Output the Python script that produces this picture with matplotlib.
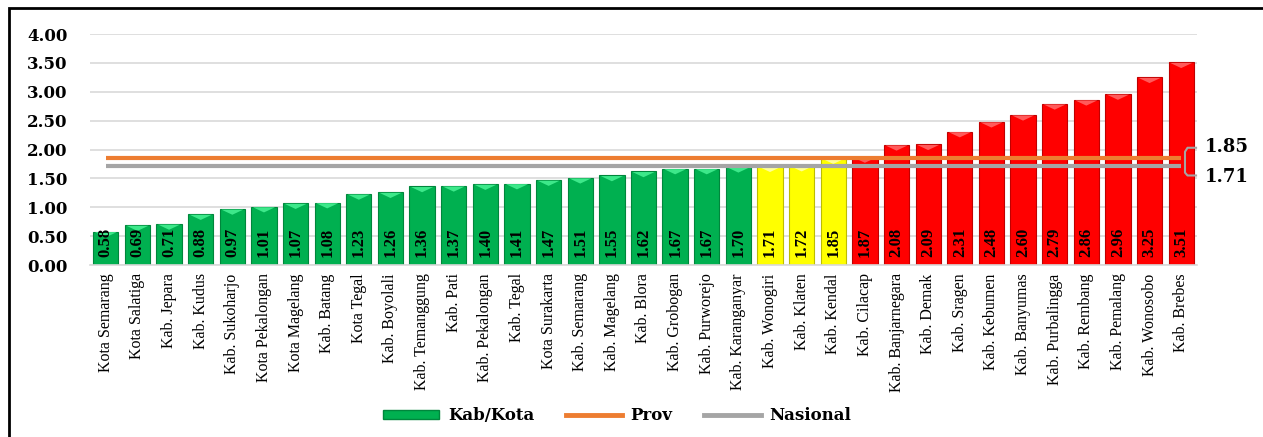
"""Grafik batang Kab/Kota Jawa Tengah dengan garis Prov dan Nasional."""

import matplotlib
matplotlib.use("Agg")
import matplotlib.pyplot as plt
from matplotlib.lines import Line2D
from matplotlib.patches import Patch, Rectangle

regions = [
    "Kota Semarang", "Kota Salatiga", "Kab. Jepara", "Kab. Kudus",
    "Kab. Sukoharjo", "Kota Pekalongan", "Kota Magelang", "Kab. Batang",
    "Kota Tegal", "Kab. Boyolali", "Kab. Temanggung", "Kab. Pati",
    "Kab. Pekalongan", "Kab. Tegal", "Kota Surakarta", "Kab. Semarang",
    "Kab. Magelang", "Kab. Blora", "Kab. Grobogan", "Kab. Purworejo",
    "Kab. Karanganyar", "Kab. Wonogiri", "Kab. Klaten", "Kab. Kendal",
    "Kab. Cilacap", "Kab. Banjarnegara", "Kab. Demak", "Kab. Sragen",
    "Kab. Kebumen", "Kab. Banyumas", "Kab. Purbalingga", "Kab. Rembang",
    "Kab. Pemalang", "Kab. Wonosobo", "Kab. Brebes",
]
values = [
    0.58, 0.69, 0.71, 0.88, 0.97, 1.01, 1.07, 1.08, 1.23, 1.26, 1.36, 1.37,
    1.40, 1.41, 1.47, 1.51, 1.55, 1.62, 1.67, 1.67, 1.70, 1.71, 1.72, 1.85,
    1.87, 2.08, 2.09, 2.31, 2.48, 2.60, 2.79, 2.86, 2.96, 3.25, 3.51,
]
prov = 1.85
nasional = 1.71
yticks = [0.0, 0.5, 1.0, 1.5, 2.0, 2.5, 3.0, 3.5, 4.0]

GREEN, YELLOW, RED = "#00B050", "#FFFF00", "#FF0000"
ORANGE, GRAY = "#ED7D31", "#A5A5A5"
SERIF = ["Liberation Serif", "DejaVu Serif"]
BOLD_SERIF = ["DejaVu Serif"]

# warna tepi dan sorotan atas untuk efek 3D
EDGE = {GREEN: "#00863C", YELLOW: "#BDBD00", RED: "#C00000"}
LIGHT = {GREEN: "#3DE88A", YELLOW: "#FFFF9A", RED: "#FF5A5A"}


def bar_color(v):
    if v < nasional:
        return GREEN
    if v <= prov:
        return YELLOW
    return RED


fig = plt.figure(figsize=(12.63, 4.37), dpi=100)
ax = fig.add_axes([90 / 1263, 1 - 265 / 437, 1107 / 1263, 231 / 437])

x = list(range(len(regions)))
colors = [bar_color(v) for v in values]
width = 0.8
bars = ax.bar(x, values, width=width, color=colors,
              edgecolor=[EDGE[c] for c in colors], linewidth=0.8, zorder=2)

# segitiga terang di puncak batang
for rect, c in zip(bars, colors):
    x0, w, h = rect.get_x(), rect.get_width(), rect.get_height()
    ax.fill([x0 + 0.05, x0 + w / 2, x0 + w - 0.05], [h - 0.01, h - 0.1, h - 0.01],
            color=LIGHT[c], lw=0, zorder=2.5)

# etiqueta nilai di dalam batang
for xi, v in zip(x, values):
    ax.text(xi, 0.13, f"{v:.2f}", rotation=90, ha="center", va="bottom",
            fontsize=12, fontweight="bold", family=SERIF, zorder=4)

# garis provinsi dan nasional
ax.plot([x[0], x[-1]], [prov, prov], color=ORANGE, lw=3, zorder=3,
        solid_capstyle="butt")
ax.plot([x[0], x[-1]], [nasional, nasional], color=GRAY, lw=3, zorder=3,
        solid_capstyle="butt")

# kurung di kanan
bx = x[-1]
ax.plot([bx + 0.47, bx + 0.2, bx + 0.12, bx + 0.12, bx + 0.2, bx + 0.47],
        [2.03, 2.03, 1.96, 1.60, 1.55, 1.55],
        color=GRAY, lw=1.5, clip_on=False, zorder=3)
ax.text(bx + 0.75, 2.04, f"{prov:.2f}", ha="left", va="center",
        fontsize=13, fontweight="bold", family=BOLD_SERIF, clip_on=False)
ax.text(bx + 0.75, 1.53, f"{nasional:.2f}", ha="left", va="center",
        fontsize=13, fontweight="bold", family=BOLD_SERIF, clip_on=False)

ax.set_xlim(-0.5, len(regions) - 0.5)
ax.set_ylim(0, 4)
ax.set_yticks(yticks)
ax.set_yticklabels([f"{t:.2f}" for t in yticks], fontsize=12,
                   fontweight="bold", family=BOLD_SERIF)
ax.set_xticks(x)
ax.set_xticklabels(regions, rotation=90, fontsize=11.5, family=SERIF)
ax.tick_params(length=0, pad=6)
ax.tick_params(axis="y", pad=16)
ax.yaxis.grid(True, color="#D9D9D9", lw=1.2, zorder=0)
ax.set_axisbelow(True)
for side in ["top", "right", "left"]:
    ax.spines[side].set_visible(False)
ax.spines["bottom"].set_color("#D9D9D9")
ax.spines["bottom"].set_linewidth(1.2)

handles = [
    Patch(facecolor=GREEN, edgecolor="#00863C", label="Kab/Kota"),
    Line2D([], [], color=ORANGE, lw=3.5, label="Prov"),
    Line2D([], [], color=GRAY, lw=3.5, label="Nasional"),
]
fig.legend(handles=handles, loc="center", bbox_to_anchor=(617 / 1263, 1 - 416 / 437),
           ncol=3, frameon=False, handlelength=3.4, handleheight=0.5,
           columnspacing=1.9, handletextpad=0.5,
           prop={"family": BOLD_SERIF, "weight": "bold", "size": 12})

# bingkai luar
fig.patches.append(Rectangle((9 / 1263, -0.1), 1.2, 1 - 8 / 437 + 0.1,
                             transform=fig.transFigure, fill=False,
                             edgecolor="black", lw=2))

fig.savefig("out.png", dpi=100)
plt.close(fig)
